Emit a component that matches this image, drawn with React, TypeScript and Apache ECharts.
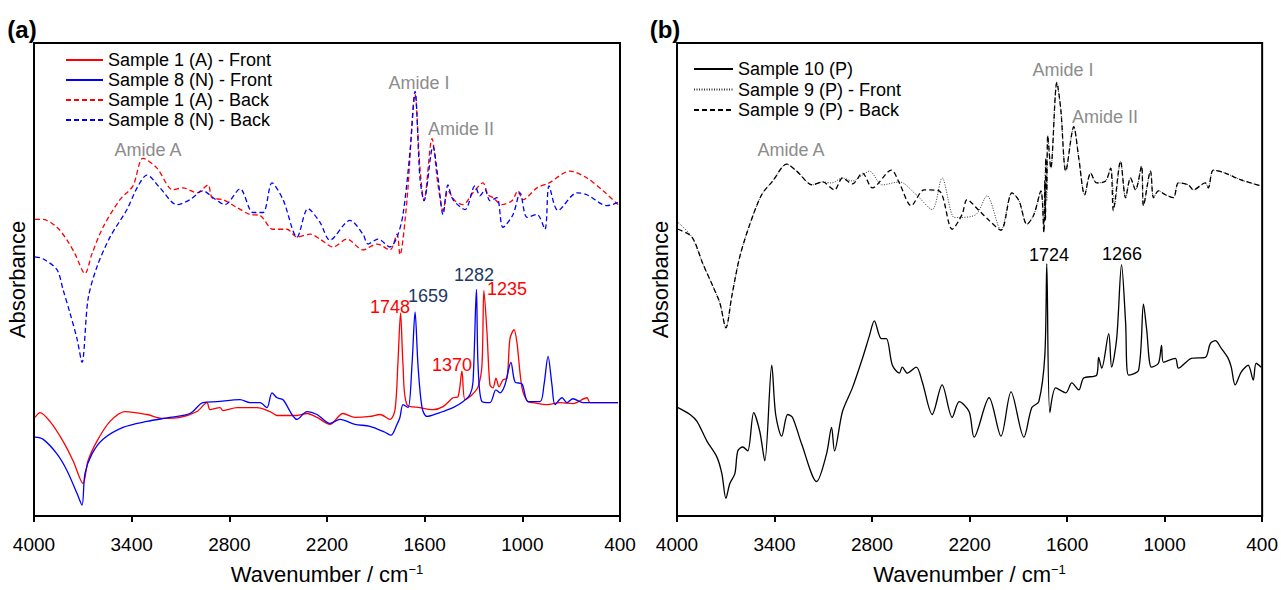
import React, { useEffect, useRef } from "react";
import * as echarts from "echarts";

// ---------- Panel (a) data: [wavenumber, absorbance (a.u.)] ----------
const s1Front: number[][] = [
  [3994, 100], [3963, 105], [3902, 96], [3822, 76], [3760, 56], [3699, 33], [3668, 56], [3613, 76],
  [3533, 96], [3441, 106], [3306, 103], [3208, 99], [3103, 100], [2999, 106], [2937, 115], [2919, 108],
  [2857, 110], [2839, 107], [2753, 110], [2630, 110], [2550, 106], [2507, 102], [2384, 102], [2323, 104],
  [2261, 100], [2182, 93], [2102, 104], [2028, 100], [1936, 101], [1874, 103], [1813, 98], [1782, 108],
  [1765, 153], [1748, 206], [1733, 153], [1709, 113], [1629, 110], [1549, 108], [1487, 111], [1426, 120],
  [1395, 121], [1371, 147], [1352, 118], [1309, 123], [1272, 131], [1248, 153], [1236, 229], [1217, 186],
  [1199, 133], [1180, 130], [1162, 140], [1143, 131], [1119, 138], [1094, 140], [1076, 180], [1051, 189],
  [1033, 176], [1002, 130], [965, 116], [934, 115], [848, 113], [769, 115], [689, 114], [603, 120],
  [584, 115], [504, 115], [412, 115],
];
const s8Front: number[][] = [
  [3994, 80], [3945, 78], [3859, 63], [3797, 46], [3736, 23], [3705, 11], [3687, 43], [3644, 63],
  [3576, 78], [3453, 90], [3306, 96], [3165, 100], [3042, 104], [2962, 115], [2876, 116], [2734, 118],
  [2673, 115], [2612, 115], [2569, 110], [2538, 125], [2507, 120], [2470, 118], [2384, 98], [2323, 106],
  [2261, 103], [2182, 94], [2120, 98], [2028, 93], [1936, 91], [1844, 85], [1807, 82], [1770, 93],
  [1752, 100], [1733, 113], [1702, 110], [1678, 153], [1659, 207], [1641, 153], [1616, 110], [1586, 101],
  [1506, 105], [1426, 110], [1365, 116], [1322, 123], [1303, 136], [1282, 230], [1272, 153], [1248, 116],
  [1199, 115], [1162, 128], [1137, 125], [1107, 133], [1070, 156], [1045, 136], [1002, 134], [965, 116],
  [891, 116], [867, 133], [842, 162], [818, 133], [799, 113], [756, 120], [726, 115], [689, 119],
  [627, 115], [412, 115],
];
const s1Back: number[][] = [
  [3994, 301], [3945, 301], [3859, 293], [3797, 280], [3748, 266], [3687, 246], [3644, 266], [3576, 293],
  [3472, 321], [3392, 335], [3330, 363], [3244, 353], [3146, 331], [3085, 333], [2999, 328], [2931, 336],
  [2906, 323], [2839, 321], [2753, 313], [2673, 306], [2612, 305], [2532, 291], [2446, 291], [2384, 283],
  [2304, 286], [2243, 281], [2163, 273], [2077, 281], [1979, 270], [1893, 276], [1813, 270], [1770, 286],
  [1752, 265], [1709, 320], [1659, 428], [1629, 353], [1604, 320], [1555, 383], [1518, 336], [1487, 310],
  [1457, 330], [1414, 320], [1365, 316], [1303, 328], [1242, 338], [1211, 326], [1180, 323], [1125, 316],
  [1063, 320], [1027, 330], [996, 321], [910, 333], [836, 338], [707, 350], [603, 343], [504, 330],
  [412, 316],
];
const s8Back: number[][] = [
  [3994, 263], [3945, 261], [3859, 250], [3822, 230], [3779, 206], [3736, 180], [3705, 156], [3668, 220],
  [3613, 253], [3533, 283], [3429, 311], [3367, 333], [3306, 346], [3226, 333], [3122, 316], [3042, 321],
  [2962, 330], [2900, 323], [2827, 316], [2734, 332], [2655, 308], [2593, 308], [2538, 338], [2470, 321],
  [2384, 283], [2317, 312], [2243, 298], [2182, 280], [2059, 300], [1979, 286], [1948, 276], [1887, 281],
  [1813, 273], [1770, 283], [1733, 306], [1690, 370], [1659, 431], [1629, 343], [1604, 320], [1549, 375],
  [1518, 343], [1487, 306], [1457, 336], [1426, 321], [1352, 311], [1291, 335], [1260, 325], [1229, 331],
  [1199, 320], [1156, 323], [1119, 293], [1057, 306], [1014, 328], [971, 303], [910, 306], [861, 291],
  [836, 335], [781, 310], [664, 328], [603, 326], [480, 315], [412, 318],
];

// ---------- Panel (b) data ----------
const s10: number[][] = [
  [3994, 110], [3920, 103], [3877, 96], [3816, 76], [3755, 60], [3724, 43], [3699, 18], [3675, 33],
  [3644, 43], [3626, 66], [3595, 70], [3565, 66], [3528, 105], [3491, 86], [3460, 56], [3417, 153],
  [3393, 103], [3356, 81], [3319, 103], [3289, 100], [3233, 73], [3141, 35], [3080, 63], [3049, 90],
  [3031, 66], [2982, 106], [2921, 130], [2859, 160], [2816, 183], [2786, 198], [2743, 180], [2712, 180],
  [2675, 153], [2632, 145], [2614, 151], [2583, 145], [2528, 151], [2491, 136], [2430, 103], [2369, 133],
  [2307, 100], [2264, 116], [2203, 106], [2172, 80], [2080, 120], [2007, 81], [1945, 126], [1866, 80],
  [1817, 110], [1774, 116], [1737, 163], [1725, 256], [1706, 105], [1670, 130], [1608, 125], [1571, 135],
  [1528, 128], [1498, 140], [1418, 143], [1406, 161], [1387, 150], [1344, 185], [1326, 151], [1295, 180],
  [1265, 255], [1240, 196], [1222, 143], [1160, 148], [1130, 215], [1111, 190], [1081, 151], [1038, 155],
  [1019, 173], [1007, 156], [934, 160], [915, 150], [835, 160], [750, 161], [719, 175], [688, 178],
  [651, 170], [609, 160], [590, 151], [566, 133], [529, 146], [486, 153], [455, 138], [437, 155],
  [406, 151],
];
const s9Front: number[][] = [
  [3994, 298], [3908, 283], [3841, 256], [3779, 233], [3736, 216], [3699, 191], [3663, 223], [3614, 263],
  [3552, 296], [3479, 326], [3411, 340], [3325, 357], [3264, 350], [3166, 336], [3105, 339], [3049, 338],
  [2982, 343], [2921, 340], [2859, 346], [2816, 350], [2737, 336], [2632, 339], [2528, 326], [2430, 311],
  [2369, 343], [2295, 303], [2264, 303], [2160, 306], [2093, 325], [2007, 290], [1939, 328], [1896, 320],
  [1847, 296], [1804, 306], [1761, 330], [1743, 288], [1737, 340], [1731, 363], [1725, 320], [1719, 386],
  [1700, 353], [1663, 440], [1639, 413], [1608, 350], [1559, 395], [1528, 363], [1492, 326], [1455, 348],
  [1418, 338], [1363, 340], [1332, 353], [1308, 316], [1271, 360], [1240, 323], [1210, 343], [1179, 331],
  [1142, 355], [1130, 315], [1087, 350], [1068, 323], [1038, 330], [995, 326], [946, 323], [915, 338],
  [854, 336], [823, 331], [750, 338], [731, 333], [700, 351], [627, 348], [529, 341], [406, 335],
];
const s9Back: number[][] = [
  [3994, 291], [3908, 283], [3841, 256], [3779, 233], [3736, 216], [3699, 191], [3663, 223], [3614, 263],
  [3552, 296], [3479, 326], [3411, 340], [3325, 357], [3264, 350], [3166, 336], [3105, 339], [3031, 331],
  [2982, 343], [2921, 337], [2859, 348], [2798, 333], [2681, 351], [2632, 338], [2559, 315], [2479, 331],
  [2387, 330], [2307, 291], [2246, 306], [2215, 321], [2142, 310], [2080, 300], [2007, 290], [1939, 328],
  [1896, 320], [1847, 296], [1804, 306], [1761, 330], [1743, 288], [1737, 340], [1733, 300], [1731, 363],
  [1725, 330], [1719, 386], [1700, 353], [1663, 440], [1639, 413], [1608, 350], [1559, 395], [1528, 363],
  [1492, 326], [1455, 348], [1418, 338], [1363, 340], [1332, 353], [1316, 310], [1308, 316], [1271, 360],
  [1240, 323], [1210, 343], [1179, 331], [1142, 355], [1130, 315], [1087, 350], [1068, 323], [1038, 330],
  [995, 326], [946, 323], [915, 338], [854, 336], [823, 331], [750, 338], [731, 333], [700, 351],
  [627, 348], [529, 341], [406, 335],
];

const xTicks = { min: 400, max: 4000, interval: 600 };
const namesA = ["Sample 1 (A) - Front", "Sample 8 (N) - Front", "Sample 1 (A) - Back", "Sample 8 (N) - Back"];
const namesB = ["Sample 10 (P)", "Sample 9 (P) - Front", "Sample 9 (P) - Back"];

const FONT = "'Liberation Sans', Arial, sans-serif";
const GRAY = "#8c8c8c";
const NAVY = "#203864";

function xAxisCfg(gridIndex: number) {
  return {
    gridIndex,
    type: "value",
    min: xTicks.min,
    max: xTicks.max,
    interval: xTicks.interval,
    inverse: true,
    axisLine: { show: true, onZero: false, lineStyle: { color: "#000", width: 2 } },
    axisTick: { show: true, length: 6, lineStyle: { color: "#000", width: 2 } },
    axisLabel: { fontSize: 19, color: "#000", margin: 19, fontFamily: FONT, formatter: (v: number) => String(v) },
    splitLine: { show: false },
    name: "Wavenumber / cm{sup|−1}",
    nameLocation: "middle",
    nameGap: 47,
    nameTextStyle: {
      fontSize: 22, color: "#000", fontFamily: FONT,
      rich: { sup: { fontSize: 13, color: "#000", fontFamily: FONT, verticalAlign: "top" } },
    },
  };
}
function yAxisCfg(gridIndex: number) {
  return {
    gridIndex,
    type: "value",
    min: 0,
    max: 480,
    axisLine: { show: true, lineStyle: { color: "#000", width: 2 } },
    axisTick: { show: false },
    axisLabel: { show: false },
    splitLine: { show: false },
    name: "Absorbance",
    nameLocation: "middle",
    nameRotate: 90,
    nameGap: 6,
    nameTextStyle: { fontSize: 22, color: "#000", fontFamily: FONT },
  };
}
function line(name: string, data: number[][], idx: number, color: string, type: any, width = 1.3) {
  return {
    name, type: "line", data, xAxisIndex: idx, yAxisIndex: idx,
    showSymbol: false, symbol: "none", smooth: 0.3,
    lineStyle: { color, width, type },
    itemStyle: { color },
  };
}
function label(text: string, x: number, y: number, color: string, size = 18, weight = "normal") {
  return {
    type: "text", x, y, z: 100,
    style: { text, fill: color, fontSize: size, fontFamily: FONT, fontWeight: weight, align: "center", verticalAlign: "middle" },
  };
}

export default function App() {
  const ref = useRef<HTMLDivElement>(null);
  useEffect(() => {
    if (!ref.current) return;
    const chart = echarts.init(ref.current, undefined, { renderer: "svg" });
    chart.setOption({
      animation: false,
      backgroundColor: "#fff",
      grid: [
        { left: 34, top: 43, width: 586, height: 480, show: true, borderColor: "#000", borderWidth: 2 },
        { left: 677, top: 43, width: 587, height: 480, show: true, borderColor: "#000", borderWidth: 2 },
      ],
      xAxis: [xAxisCfg(0), xAxisCfg(1)],
      yAxis: [yAxisCfg(0), yAxisCfg(1)],
      legend: [
        {
          data: namesA, left: 65, top: 51, padding: 0, orient: "vertical", itemWidth: 37, itemHeight: 14, itemGap: 2,
          itemStyle: { opacity: 0 },
          textStyle: { fontSize: 18, color: "#000", fontFamily: FONT },
        },
        {
          data: namesB, left: 693, top: 60, padding: 0, orient: "vertical", itemWidth: 39, itemHeight: 14, itemGap: 2.5,
          itemStyle: { opacity: 0 },
          textStyle: { fontSize: 18, color: "#000", fontFamily: FONT },
        },
      ],
      series: [
        line(namesA[0], s1Front, 0, "#ff0000", "solid"),
        line(namesA[1], s8Front, 0, "#0000ff", "solid"),
        line(namesA[2], s1Back, 0, "#ff0000", [5, 3]),
        line(namesA[3], s8Back, 0, "#0000ff", [5, 3]),
        line(namesB[0], s10, 1, "#000000", "solid"),
        line(namesB[1], s9Front, 1, "#333333", [1, 1.5], 1),
        line(namesB[2], s9Back, 1, "#000000", [5, 3]),
      ],
      graphic: [
        label("(a)", 22, 29, "#000", 24, "bold"),
        label("(b)", 665, 29, "#000", 24, "bold"),
        label("Amide A", 148, 150, GRAY),
        label("Amide I", 419, 83, GRAY),
        label("Amide II", 461, 129, GRAY),
        label("1748", 390, 307, "#ff0000"),
        label("1659", 428, 296, NAVY),
        label("1282", 474, 275, NAVY),
        label("1235", 507, 289, "#ff0000"),
        label("1370", 452, 365, "#ff0000"),
        label("Amide A", 791, 150, GRAY),
        label("Amide I", 1063, 70, GRAY),
        label("Amide II", 1105, 117, GRAY),
        label("1724", 1049, 255, "#000"),
        label("1266", 1122, 254, "#000"),
      ],
    });
    return () => chart.dispose();
  }, []);
  return <div ref={ref} style={{ position: "absolute", left: 0, top: 0, width: 1281, height: 590 }} />;
}
